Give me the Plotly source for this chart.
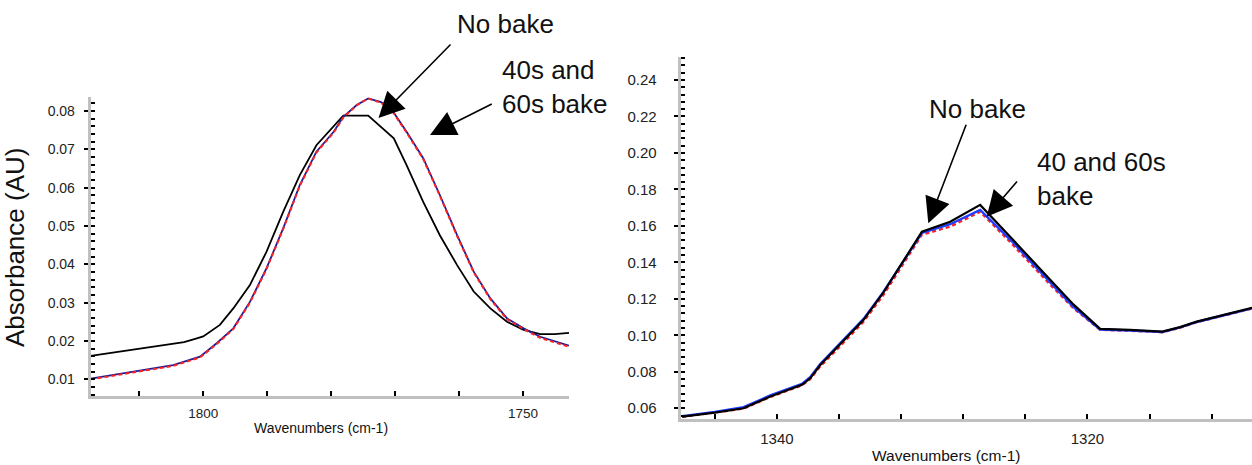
import plotly.graph_objects as go

W, H = 1252, 465

# ---------------- data ----------------
# Left panel: carbonyl band, 1818-1743 cm-1
left_wn_nobake = [1817.6, 1810.0, 1805.7, 1803.0, 1801.0, 1800.0, 1797.4, 1795.3, 1792.7, 1790.1,
                  1787.5, 1784.9, 1782.3, 1779.6, 1778.1, 1774.2, 1772.1, 1770.2, 1768.2, 1765.6,
                  1763.0, 1760.3, 1757.7, 1755.1, 1752.5, 1749.9, 1747.3, 1745.0, 1742.8]
left_nobake = [0.0161, 0.0180, 0.0189, 0.0197, 0.0207, 0.0212, 0.0242, 0.0285, 0.0346, 0.0433,
               0.0537, 0.0633, 0.0711, 0.0759, 0.0788, 0.0788, 0.0758, 0.0729, 0.0659, 0.0563,
               0.0476, 0.0398, 0.0329, 0.0285, 0.0250, 0.0229, 0.0218, 0.0218, 0.0221]

left_wn_bake = [1817.6, 1810.0, 1804.7, 1800.5, 1797.9, 1795.3, 1792.7, 1790.1, 1787.5, 1784.9,
                1782.3, 1779.6, 1778.1, 1776.0, 1774.2, 1772.3, 1770.8, 1768.2, 1765.6, 1763.0,
                1760.3, 1757.7, 1755.1, 1752.5, 1749.9, 1747.3, 1742.8]
left_bake40 = [0.0102, 0.0122, 0.0137, 0.0159, 0.0194, 0.0233, 0.0302, 0.0390, 0.0494, 0.0607,
               0.0694, 0.0746, 0.0785, 0.0816, 0.0833, 0.0824, 0.0811, 0.0746, 0.0677, 0.0581,
               0.0476, 0.0381, 0.0311, 0.0259, 0.0233, 0.0211, 0.0188]
left_bake60 = [0.0100, 0.0120, 0.0135, 0.0157, 0.0192, 0.0231, 0.0300, 0.0388, 0.0492, 0.0605,
               0.0692, 0.0744, 0.0783, 0.0815, 0.0833, 0.0822, 0.0809, 0.0744, 0.0675, 0.0579,
               0.0474, 0.0379, 0.0309, 0.0257, 0.0231, 0.0208, 0.0185]

# Right panel: 1346-1309 cm-1
right_wn = [1346.1, 1344.0, 1342.15, 1340.43, 1338.39, 1337.86, 1337.21, 1336.14, 1334.42, 1333.14,
            1331.85, 1330.66, 1328.84, 1326.91, 1324.98, 1323.69, 1322.40, 1320.89, 1319.18, 1317.25,
            1315.17, 1314.03, 1312.96, 1310.82, 1309.39]
right_nobake = [0.0554, 0.0576, 0.0600, 0.0664, 0.0728, 0.0764, 0.0837, 0.0930, 0.1085, 0.1235,
                0.1405, 0.1568, 0.1623, 0.1715, 0.1540, 0.1420, 0.1305, 0.1168, 0.1035, 0.1030,
                0.1020, 0.1045, 0.1075, 0.1120, 0.1150]
right_bake40 = [0.0556, 0.0580, 0.0606, 0.0670, 0.0733, 0.0770, 0.0843, 0.0937, 0.1090, 0.1238,
                0.1405, 0.1562, 0.1609, 0.1687, 0.1525, 0.1405, 0.1290, 0.1155, 0.1032, 0.1026,
                0.1018, 0.1043, 0.1073, 0.1118, 0.1148]
right_bake60 = [0.0553, 0.0575, 0.0598, 0.0662, 0.0726, 0.0760, 0.0830, 0.0922, 0.1075, 0.1222,
                0.1390, 0.1552, 0.1596, 0.1678, 0.1512, 0.1392, 0.1278, 0.1148, 0.1030, 0.1025,
                0.1017, 0.1042, 0.1072, 0.1117, 0.1147]

left_yticks = [0.01, 0.02, 0.03, 0.04, 0.05, 0.06, 0.07, 0.08]
right_yticks = [0.06, 0.08, 0.10, 0.12, 0.14, 0.16, 0.18, 0.20, 0.22, 0.24]
left_xticks = [1800, 1750]
right_xticks = [1340, 1320]

FONT = "Liberation Sans, Arial, sans-serif"


def px(x):
    return x / W


def py(y):
    return 1 - y / H


fig = go.Figure()

# left panel traces
fig.add_trace(go.Scatter(x=left_wn_nobake, y=left_nobake, mode="lines", name="No bake",
                         line=dict(color="black", width=1.8), xaxis="x", yaxis="y"))
fig.add_trace(go.Scatter(x=left_wn_bake, y=left_bake40, mode="lines", name="40s bake",
                         line=dict(color="#1c1c96", width=1.8), xaxis="x", yaxis="y"))
fig.add_trace(go.Scatter(x=left_wn_bake, y=left_bake60, mode="lines", name="60s bake",
                         line=dict(color="#ff2020", width=2, dash="4px,3px"), xaxis="x", yaxis="y"))

# right panel traces
fig.add_trace(go.Scatter(x=right_wn, y=right_bake60, mode="lines", name="60s bake",
                         line=dict(color="#ff2020", width=2.4, dash="4px,3px"), xaxis="x2", yaxis="y2"))
fig.add_trace(go.Scatter(x=right_wn, y=right_bake40, mode="lines", name="40s bake",
                         line=dict(color="#1f3cff", width=2.4), xaxis="x2", yaxis="y2"))
fig.add_trace(go.Scatter(x=right_wn, y=right_nobake, mode="lines", name="No bake",
                         line=dict(color="black", width=2.2), xaxis="x2", yaxis="y2"))

axis_common = dict(showgrid=False, zeroline=False, showline=True, linecolor="#c0c0c0",
                   linewidth=3, tickcolor="black", tickwidth=2, automargin=False)

fig.update_layout(
    width=W, height=H,
    margin=dict(l=0, r=0, t=0, b=0),
    paper_bgcolor="white", plot_bgcolor="white",
    showlegend=False,
    font=dict(family=FONT, color="#222222"),
    xaxis=dict(axis_common, domain=[px(90.7), px(569)], range=[1817.6, 1742.8],
               anchor="y", tickvals=left_xticks, ticks="inside", ticklen=5,
               tickfont=dict(size=13.5), ticklabelstandoff=3,
               minor=dict(dtick=10, ticks="inside", ticklen=5, tickwidth=2, tickcolor="black")),
    yaxis=dict(axis_common, domain=[py(396), py(97.3)], range=[0.00564, 0.0836],
               anchor="x", tickvals=left_yticks, tickformat=".2f", ticks="outside", ticklen=4,
               tickfont=dict(size=14), ticklabelstandoff=6,
               minor=dict(dtick=0.002, ticks="inside", ticklen=4, tickwidth=2, tickcolor="black")),
    xaxis2=dict(axis_common, domain=[px(680.7), 1.0], range=[1346.2, 1309.4],
                anchor="y2", tickvals=right_xticks, ticks="inside", ticklen=5,
                tickfont=dict(size=15), ticklabelstandoff=4,
                minor=dict(dtick=4, ticks="inside", ticklen=5, tickwidth=2, tickcolor="black")),
    yaxis2=dict(axis_common, domain=[py(419), py(57)], range=[0.0541, 0.2526],
                anchor="x2", tickvals=right_yticks, tickformat=".2f", ticks="outside", ticklen=4,
                tickfont=dict(size=15), ticklabelstandoff=14,
                minor=dict(dtick=0.004, ticks="inside", ticklen=4, tickwidth=2, tickcolor="black")),
)

ann = []
# axis titles
ann.append(dict(text="Absorbance (AU)", x=px(15), y=py(248), xref="paper", yref="paper",
                textangle=-90, showarrow=False, xanchor="center", yanchor="middle",
                font=dict(size=26, family=FONT, color="#111111")))
ann.append(dict(text="Wavenumbers (cm-1)", x=px(320.5), y=py(428), xref="paper", yref="paper",
                showarrow=False, xanchor="center", yanchor="middle",
                font=dict(size=14, family=FONT, color="#111111")))
ann.append(dict(text="Wavenumbers (cm-1)", x=px(946), y=py(455), xref="paper", yref="paper",
                showarrow=False, xanchor="center", yanchor="middle",
                font=dict(size=15.5, family=FONT, color="#111111")))

# callout labels
big = dict(size=26, family=FONT, color="#111111")
ann.append(dict(text="No bake", x=px(506), y=py(24), xref="paper", yref="paper",
                showarrow=False, xanchor="center", yanchor="middle", font=big))
ann.append(dict(text="40s and<br>60s bake", x=px(500), y=py(87), xref="paper", yref="paper",
                showarrow=False, xanchor="left", yanchor="middle", align="left", font=big))
ann.append(dict(text="No bake", x=px(977.5), y=py(109), xref="paper", yref="paper",
                showarrow=False, xanchor="center", yanchor="middle", font=big))
ann.append(dict(text="40 and 60s<br>bake", x=px(1035), y=py(179), xref="paper", yref="paper",
                showarrow=False, xanchor="left", yanchor="middle", align="left", font=big))

# arrows (tip, tail) in pixels
arrows = [((378.5, 118), (452, 43)),
          ((430, 135), (493.3, 103.3)),
          ((928.3, 223.3), (966.7, 123.3)),
          ((986.7, 216.7), (1018.3, 180))]
for (tx, ty), (sx, sy) in arrows:
    ann.append(dict(text="", x=px(tx), y=py(ty), xref="paper", yref="paper",
                    showarrow=True, ax=sx - tx, ay=sy - ty, axref="pixel", ayref="pixel",
                    arrowhead=2, arrowsize=3.2, arrowwidth=1.6, arrowcolor="black", standoff=0))

fig.update_layout(annotations=ann)

fig.write_html("out.html",
               config={"displayModeBar": False, "staticPlot": True},
               post_script="document.body.style.margin='0px';document.body.style.overflow='hidden';")
